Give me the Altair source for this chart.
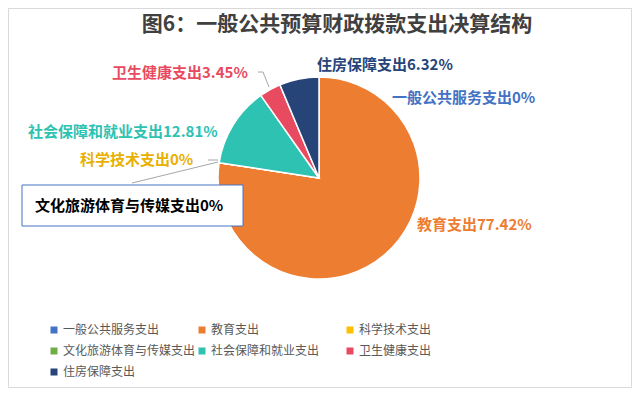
import altair as alt
import pandas as pd

# ---- data ----
categories = ["一般公共服务支出", "教育支出", "科学技术支出", "文化旅游体育与传媒支出",
              "社会保障和就业支出", "卫生健康支出", "住房保障支出"]
values = [0, 77.42, 0, 0, 12.81, 3.45, 6.32]
colors = ["#4472C4", "#ED7D31", "#FFC000", "#70AD47", "#2EC2B3", "#E84A5F", "#264478"]
label_colors = ["#4472C4", "#ED7D31", "#E8B000", "#000000", "#2EC2B3", "#E84A5F", "#264478"]
title_text = "图6：一般公共预算财政拨款支出决算结构"

# ---- layout (page pixel coordinates) ----
OFF = 8
W, H = 624, 380
CX, CY, R = 319, 178, 101
label_pos = [(392, 98), (417, 225), (80, 160), (35, 206), (28, 132), (112, 73), (317, 65)]
leaders = [
    (258, 72, 263, 72), (263, 72, 269, 87),
    (208, 160, 218, 160), (132, 183, 218, 162),
]
FONT = "Noto Sans CJK SC"

def fmt(v):
    s = f"{v:.2f}".rstrip("0").rstrip(".")
    return s + "%"

pie_df = pd.DataFrame({"name": categories, "value": values, "idx": list(range(len(categories)))})

lab_df = pd.DataFrame({
    "text": [c + fmt(v) for c, v in zip(categories, values)],
    "px": [p[0] - OFF for p in label_pos],
    "py": [p[1] - OFF for p in label_pos],
    "tc": label_colors,
})

lead_df = pd.DataFrame({
    "x1": [l[0] - OFF for l in leaders], "y1": [l[1] - OFF for l in leaders],
    "x2": [l[2] - OFF for l in leaders], "y2": [l[3] - OFF for l in leaders],
})

border = alt.Chart(pd.DataFrame({"a": [0]})).mark_rect(fill="white", stroke="#D9D9D9", strokeWidth=1).encode(
    x=alt.value(0.5), x2=alt.value(W - 0.5), y=alt.value(0.5), y2=alt.value(H - 0.5)
)

pie = alt.Chart(pie_df).mark_arc(outerRadius=R, stroke="white", strokeWidth=1.5).encode(
    theta=alt.Theta("value:Q", stack=True),
    order=alt.Order("idx:Q"),
    color=alt.Color("name:N", scale=alt.Scale(domain=categories, range=colors),
                    legend=alt.Legend(title=None, orient="none", legendX=40, legendY=316,
                                      direction="horizontal",
                                      columns=3, gridAlign="all", columnPadding=0, rowPadding=9,
                                      symbolType="square", symbolSize=49, symbolStrokeWidth=0,
                                      labelFont=FONT, labelFontSize=12, labelColor="#595959",
                                      labelLimit=300, labelOffset=3, padding=0)),
    x=alt.value(CX - OFF), y=alt.value(CY - OFF),
)

box = alt.Chart(pd.DataFrame({"a": [0]})).mark_rect(fill="white", stroke="#4472C4", strokeWidth=1).encode(
    x=alt.value(22 - OFF), x2=alt.value(243 - OFF), y=alt.value(185 - OFF), y2=alt.value(226 - OFF)
)

lines = alt.Chart(lead_df).mark_rule(color="#A6A6A6", strokeWidth=1).encode(
    x=alt.X("x1:Q", scale=None, axis=None), y=alt.Y("y1:Q", scale=None, axis=None),
    x2="x2:Q", y2="y2:Q",
)

labels = alt.Chart(lab_df).mark_text(align="left", baseline="middle", font=FONT,
                                     fontSize=15, fontWeight="bold").encode(
    x=alt.X("px:Q", scale=None, axis=None), y=alt.Y("py:Q", scale=None, axis=None),
    text="text:N", color=alt.Color("tc:N", scale=None, legend=None),
)

title = alt.Chart(pd.DataFrame({"t": [title_text]})).mark_text(
    align="center", baseline="middle", font=FONT, fontSize=21, fontWeight="bold", color="#404040"
).encode(x=alt.value(337 - OFF), y=alt.value(25 - OFF), text="t:N")

chart = alt.layer(border, pie, lines, box, labels, title).properties(
    width=W, height=H, padding=0, autosize=alt.AutoSizeParams(type="none")
).configure_view(stroke=None)

chart.save("out.html", embed_options={"renderer": "svg", "actions": False})
